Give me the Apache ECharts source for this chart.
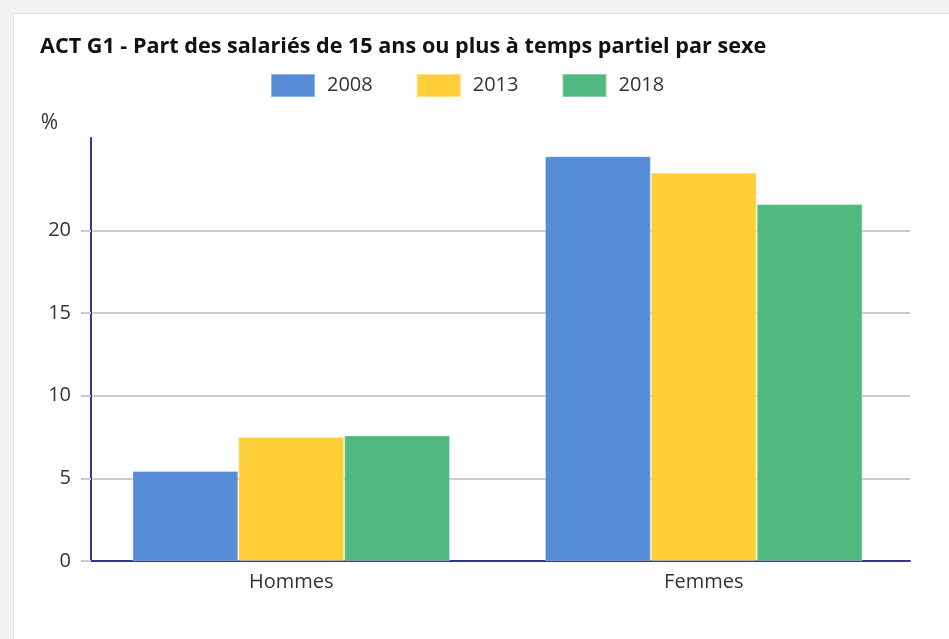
<!DOCTYPE html>
<html lang="fr">
<head>
    <meta charset="utf-8">
    <title>ACT G1</title>
    <style>
        * {
            margin: 0;
            padding: 0;
        }

        body {
            background: #f2f2f2;
            width: 949px;
            height: 639px;
            overflow: hidden;
            position: relative;
        }

        .panel {
            position: absolute;
            left: 13px;
            top: 13px;
            right: 0;
            bottom: 0;
            background: #fff;
            border-left: 1px solid #e2e2e2;
            border-top: 1px solid #e2e2e2;
        }

        .chart-container {
            position: absolute;
            left: 0;
            top: 0;
            width: 949px;
            height: 639px;
        }
    </style>
</head>
<body>
<div class="panel"></div>
<div id="chart" class="chart-container"></div>
<script src="https://cdn.jsdelivr.net/npm/echarts@6/dist/echarts.min.js"></script>
<script>
    // données
    const categories = ['Hommes', 'Femmes'];
    const years = ['2008', '2013', '2018'];
    const values2008 = [5.45, 24.5];
    const values2013 = [7.5, 23.5];
    const values2018 = [7.6, 21.6];
    const yTicks = [0, 5, 10, 15, 20];

    const colors = ['#5289d5', '#ffcd34', '#4bb77b'];
    const font = '"Open Sans", sans-serif';

    const chart = echarts.init(document.getElementById('chart'), null, {renderer: 'canvas'});

    const option = {
        backgroundColor: 'transparent',
        animation: false,
        color: colors,
        title: {
            text: 'ACT G1 - Part des salariés de 15 ans ou plus à temps partiel par sexe',
            left: 35,
            top: 31,
            textStyle: {
                fontFamily: font,
                fontSize: 21.6,
                fontWeight: 'bold',
                color: '#111'
            }
        },
        legend: {
            data: years,
            left: 265,
            top: 68,
            itemWidth: 44,
            itemHeight: 23,
            itemGap: 43,
            icon: 'rect',
            textStyle: {
                fontFamily: font,
                fontSize: 20,
                color: '#333',
                padding: [0, 0, 0, 7]
            }
        },
        grid: {
            left: 85,
            right: 39,
            top: 138,
            bottom: 78,
            containLabel: false
        },
        xAxis: {
            type: 'category',
            data: categories,
            axisLine: {lineStyle: {color: '#33339a', width: 2}},
            axisTick: {show: false},
            axisLabel: {
                fontFamily: font,
                fontSize: 20,
                color: '#333',
                margin: 11
            }
        },
        yAxis: {
            type: 'value',
            min: 0,
            max: 25.6,
            offset: -6,
            name: '%',
            nameLocation: 'end',
            nameGap: 4,
            nameTextStyle: {
                fontFamily: font,
                fontSize: 21,
                color: '#333',
                align: 'right',
                padding: [0, 33, 0, 0]
            },
            axisLine: {show: true, lineStyle: {color: '#33339a', width: 2}},
            axisTick: {
                show: true,
                length: 10,
                customValues: yTicks,
                lineStyle: {color: '#cccccc', width: 2}
            },
            axisLabel: {
                customValues: yTicks,
                fontFamily: font,
                fontSize: 20,
                color: '#333',
                margin: 20
            },
            splitLine: {
                show: true,
                lineStyle: {color: '#cccccc', width: 2}
            }
        },
        series: [
            {name: years[0], type: 'bar', data: values2008},
            {name: years[1], type: 'bar', data: values2013},
            {name: years[2], type: 'bar', data: values2018}
        ].map(function (s) {
            s.barGap = 0;
            s.barCategoryGap = '23%';
            s.itemStyle = {opacity: 0.97, borderColor: 'rgba(255,255,255,0.35)', borderWidth: 1};
            return s;
        })
    };

    chart.setOption(option);
</script>
</body>
</html>
